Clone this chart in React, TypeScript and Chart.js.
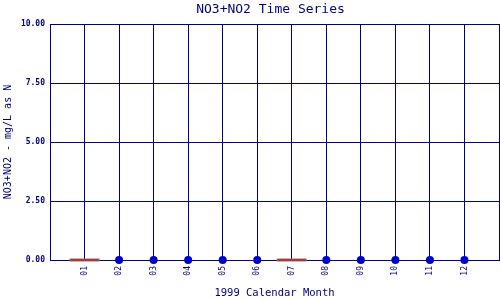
import React, { useEffect, useRef } from "react";
import { Chart, registerables } from "chart.js";

Chart.register(...registerables);

const monthNums = [1, 2, 3, 4, 5, 6, 7, 8, 9, 10, 11, 12];
const monthLabels = ["01", "02", "03", "04", "05", "06", "07", "08", "09", "10", "11", "12"];
const no3no2Values = [0, 0, 0, 0, 0, 0, 0, 0, 0, 0, 0, 0];
const nonDetectFlags = [true, false, false, false, false, false, true, false, false, false, false, false];
const yTicks = [0, 2.5, 5, 7.5, 10];

const TITLE = "NO3+NO2 Time Series";
const X_TITLE = "1999 Calendar Month";
const Y_TITLE = "NO3+NO2 - mg/L as N";

const NAVY = "#000080";
const MONO = "'DejaVu Sans Mono', 'Liberation Mono', monospace";

export default function App() {
  const ref = useRef<HTMLCanvasElement | null>(null);

  useEffect(() => {
    document.body.style.margin = "0";
    const canvas = ref.current;
    if (!canvas) return;

    const pointData = monthNums
      .map((m, i) => ({ x: m, y: no3no2Values[i], nd: nonDetectFlags[i] }))
      .filter((p) => !p.nd)
      .map((p) => ({ x: p.x, y: p.y }));
    const ndData = monthNums
      .map((m, i) => ({ x: m, y: no3no2Values[i], nd: nonDetectFlags[i] }))
      .filter((p) => p.nd)
      .map((p) => ({ x: p.x, y: p.y }));

    const titlePlugin = {
      id: "plotTitle",
      afterDraw(chart: any) {
        const { ctx, chartArea } = chart;
        ctx.save();
        ctx.font = `13px ${MONO}`;
        ctx.fillStyle = NAVY;
        ctx.textAlign = "center";
        ctx.textBaseline = "alphabetic";
        ctx.fillText(TITLE, (chartArea.left + chartArea.right) / 2 - 4, 13);
        ctx.restore();
      },
    };

    const zeroPad = (s: any) => {
      s.paddingLeft = 0;
      s.paddingRight = 0;
      s.paddingTop = 0;
      s.paddingBottom = 0;
    };

    const chart = new Chart(canvas, {
      type: "scatter",
      data: {
        datasets: [
          {
            data: ndData,
            pointStyle: "line",
            pointRadius: 14,
            borderWidth: 1.2,
            borderColor: "#e00000",
            backgroundColor: "#e00000",
            showLine: false,
            clip: false,
          } as any,
          {
            data: ndData,
            pointStyle: "line",
            pointRadius: 15,
            borderWidth: 3,
            borderColor: "#7c7c7c",
            backgroundColor: "#7c7c7c",
            showLine: false,
            clip: false,
          } as any,
          {
            data: pointData,
            pointStyle: "circle",
            pointRadius: 4,
            borderWidth: 0,
            backgroundColor: "#0000cc",
            borderColor: "#0000cc",
            showLine: false,
            clip: false,
          } as any,
        ],
      },
      options: {
        animation: false,
        responsive: false,
        events: [],
        layout: { autoPadding: false, padding: { top: 24, right: 1, left: 0, bottom: 0 } },
        plugins: {
          legend: { display: false },
          tooltip: { enabled: false },
          title: { display: false },
        },
        scales: {
          x: {
            type: "linear",
            min: 0,
            max: monthNums.length + 1,
            afterFit: (s: any) => {
              s.height = 40;
              zeroPad(s);
            },
            afterBuildTicks: (s: any) => {
              const t = [{ value: 0 }];
              monthNums.forEach((m) => t.push({ value: m }));
              t.push({ value: monthNums.length + 1 });
              s.ticks = t;
            },
            ticks: {
              autoSkip: false,
              maxRotation: 90,
              minRotation: 90,
              padding: 6,
              color: NAVY,
              font: { family: MONO, size: 8 },
              callback: (v: any) => {
                const i = monthNums.indexOf(Number(v));
                return i >= 0 ? monthLabels[i] : "";
              },
            },
            grid: { color: NAVY, lineWidth: 1, drawTicks: false },
            border: { color: NAVY, width: 1 },
            title: {
              display: true,
              text: X_TITLE,
              color: NAVY,
              font: { family: MONO, size: 10.5 },
              padding: { top: 0, bottom: 0 },
            },
          },
          y: {
            type: "linear",
            min: yTicks[0],
            max: yTicks[yTicks.length - 1],
            afterFit: (s: any) => {
              s.width = 50;
              zeroPad(s);
            },
            afterBuildTicks: (s: any) => {
              s.ticks = yTicks.map((v) => ({ value: v }));
            },
            ticks: {
              padding: 5,
              color: NAVY,
              font: { family: MONO, size: 8, weight: "bold" },
              callback: (v: any) => Number(v).toFixed(2),
            },
            grid: { color: NAVY, lineWidth: 1, drawTicks: false },
            border: { color: NAVY, width: 1 },
            title: {
              display: true,
              text: Y_TITLE,
              color: NAVY,
              font: { family: MONO, size: 10 },
              padding: { top: 2, bottom: 0 },
            },
          },
        },
      } as any,
      plugins: [titlePlugin],
    });

    return () => chart.destroy();
  }, []);

  return (
    <div style={{ width: 500, height: 300 }}>
      <canvas ref={ref} width={500} height={300} />
    </div>
  );
}
